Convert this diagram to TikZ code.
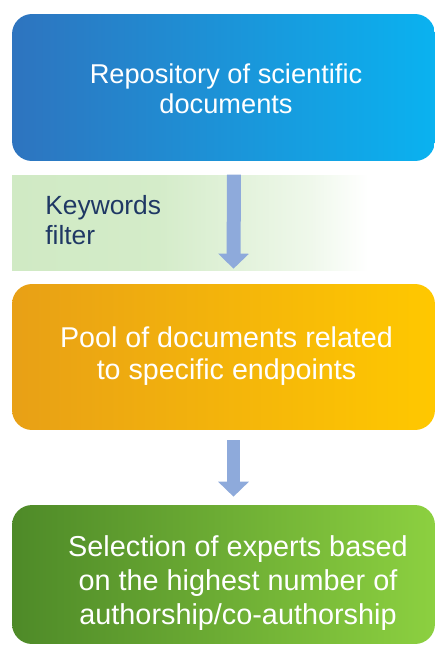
\documentclass[tikz,border=0pt]{standalone}
\usepackage{fontspec}
\setmainfont{Liberation Sans}
\definecolor{fcRepoL}{RGB}{46,116,191}
\definecolor{fcRepoR}{RGB}{10,178,240}
\definecolor{fcBand}{RGB}{208,234,196}
\definecolor{fcPoolL}{RGB}{232,160,22}
\definecolor{fcPoolR}{RGB}{255,200,0}
\definecolor{fcExpL}{RGB}{78,138,40}
\definecolor{fcExpR}{RGB}{140,208,64}
\definecolor{fcArrow}{RGB}{142,170,219}
\definecolor{fcNavy}{RGB}{31,56,100}
\usetikzlibrary{positioning,arrows.meta}
\pgfdeclarehorizontalshading{bandfade}{100bp}{color(0bp)=(fcBand); color(25bp)=(fcBand); color(42bp)=(fcBand!92!white); color(60bp)=(fcBand!35!white); color(67bp)=(white); color(100bp)=(white)}

\begin{document}
\begin{tikzpicture}[x=0.02cm,y=-0.02cm,
    stagebox/.style={rounded corners=0.4cm, minimum width=8.46cm, inner sep=0pt},
    stagetext/.style={text=white, align=center, inner sep=0pt},
    flowarrow/.style={draw=fcArrow, line width=0.28cm, -{Triangle[width=0.6cm,length=0.3cm]}}]
    % frame of the picture
    \useasboundingbox (0,0) rectangle (436,646);

    % boxes
    \node[stagebox, minimum height=2.94cm, left color=fcRepoL, right color=fcRepoR] (repo) at (223.5,87.5) {};
    \node[inner sep=0pt, minimum width=8.48cm, minimum height=1.92cm, shading=bandfade] (band) at (224,223) {};
    \node[stagebox, minimum height=2.92cm, left color=fcPoolL, right color=fcPoolR] (pool) at (223.5,357) {};
    \node[stagebox, minimum height=2.78cm, left color=fcExpL, right color=fcExpR] (experts) at (223.5,574.5) {};

    % texts
    \node[stagetext, font=\fontsize{15.5}{17}\selectfont] (repotext) at (226,89) {Repository of scientific\\documents};
    \node[text=fcNavy, align=left, anchor=west, inner sep=0pt, font=\fontsize{15}{17}\selectfont] (bandtext) at (45,220) {Keywords\\filter};
    \node[stagetext, font=\fontsize{16.3}{18.2}\selectfont] (pooltext) at (226.5,356) {Pool of documents related\\to specific endpoints};
    \node[stagetext, font=\fontsize{16.4}{19.6}\selectfont] (exptext) at (238,583) {Selection of experts based\\on the highest number of\\authorship/co-authorship};

    % arrows
    \draw[flowarrow] ([xshift=0.2cm]band.north) -- ([xshift=0.2cm,yshift=0.3cm]pool.north);
    \draw[flowarrow] ([xshift=0.2cm,yshift=-0.2cm]pool.south) -- ([xshift=0.2cm,yshift=0.16cm]experts.north);
\end{tikzpicture}
\end{document}
